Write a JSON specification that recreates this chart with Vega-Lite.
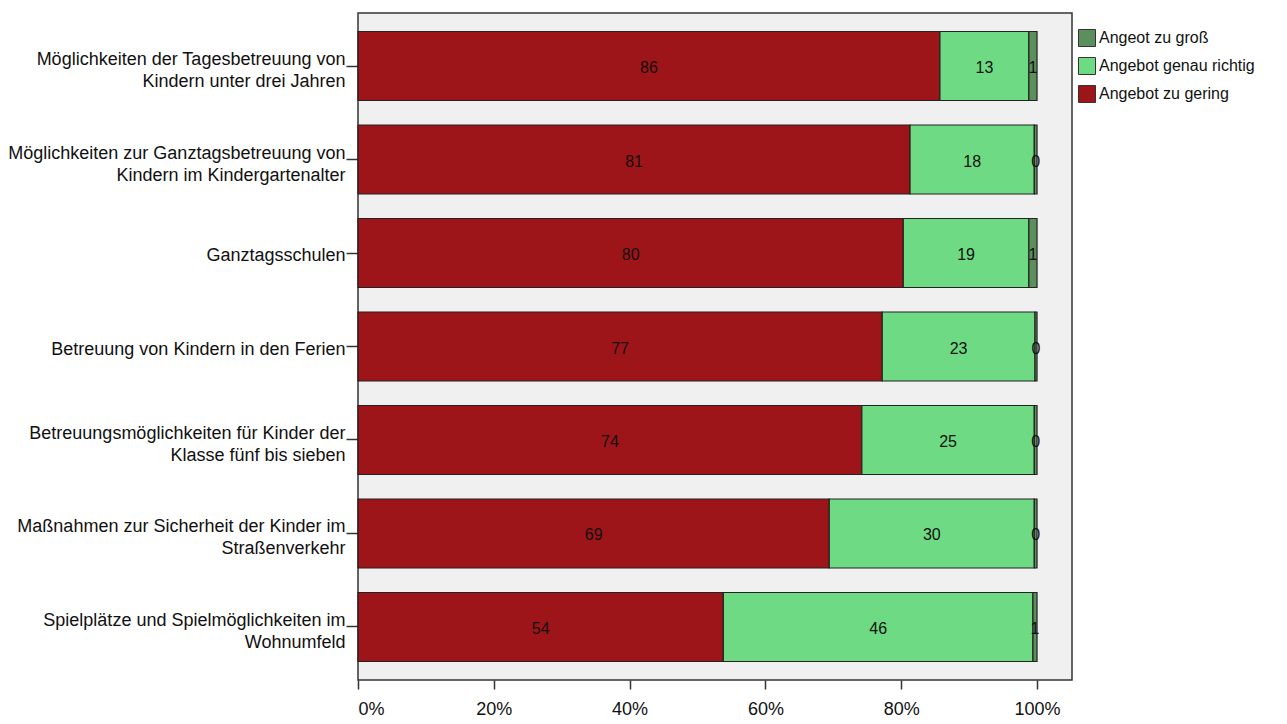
{
  "$schema": "https://vega.github.io/schema/vega-lite/v6.json",
  "autosize": "none",
  "width": 714,
  "height": 667,
  "padding": {"left": 358, "top": 13, "right": 215, "bottom": 44},
  "background": "white",
  "config": {
    "view": {"fill": "#F0F0F0", "stroke": "#333333", "strokeWidth": 1.5},
    "font": "Liberation Sans, Arial"
  },
  "data": {"values": [
    {"item": "Möglichkeiten der Tagesbetreuung von|Kindern unter drei Jahren", "cat": "Angebot zu gering", "ord": 1, "value": 85.7},
    {"item": "Möglichkeiten der Tagesbetreuung von|Kindern unter drei Jahren", "cat": "Angebot genau richtig", "ord": 2, "value": 13.1},
    {"item": "Möglichkeiten der Tagesbetreuung von|Kindern unter drei Jahren", "cat": "Angeot zu groß", "ord": 3, "value": 1.2},
    {"item": "Möglichkeiten zur Ganztagsbetreuung von|Kindern im Kindergartenalter", "cat": "Angebot zu gering", "ord": 1, "value": 81.3},
    {"item": "Möglichkeiten zur Ganztagsbetreuung von|Kindern im Kindergartenalter", "cat": "Angebot genau richtig", "ord": 2, "value": 18.3},
    {"item": "Möglichkeiten zur Ganztagsbetreuung von|Kindern im Kindergartenalter", "cat": "Angeot zu groß", "ord": 3, "value": 0.4},
    {"item": "Ganztagsschulen", "cat": "Angebot zu gering", "ord": 1, "value": 80.3},
    {"item": "Ganztagsschulen", "cat": "Angebot genau richtig", "ord": 2, "value": 18.5},
    {"item": "Ganztagsschulen", "cat": "Angeot zu groß", "ord": 3, "value": 1.2},
    {"item": "Betreuung von Kindern in den Ferien", "cat": "Angebot zu gering", "ord": 1, "value": 77.2},
    {"item": "Betreuung von Kindern in den Ferien", "cat": "Angebot genau richtig", "ord": 2, "value": 22.5},
    {"item": "Betreuung von Kindern in den Ferien", "cat": "Angeot zu groß", "ord": 3, "value": 0.3},
    {"item": "Betreuungsmöglichkeiten für Kinder der|Klasse fünf bis sieben", "cat": "Angebot zu gering", "ord": 1, "value": 74.2},
    {"item": "Betreuungsmöglichkeiten für Kinder der|Klasse fünf bis sieben", "cat": "Angebot genau richtig", "ord": 2, "value": 25.4},
    {"item": "Betreuungsmöglichkeiten für Kinder der|Klasse fünf bis sieben", "cat": "Angeot zu groß", "ord": 3, "value": 0.4},
    {"item": "Maßnahmen zur Sicherheit der Kinder im|Straßenverkehr", "cat": "Angebot zu gering", "ord": 1, "value": 69.4},
    {"item": "Maßnahmen zur Sicherheit der Kinder im|Straßenverkehr", "cat": "Angebot genau richtig", "ord": 2, "value": 30.2},
    {"item": "Maßnahmen zur Sicherheit der Kinder im|Straßenverkehr", "cat": "Angeot zu groß", "ord": 3, "value": 0.4},
    {"item": "Spielplätze und Spielmöglichkeiten im|Wohnumfeld", "cat": "Angebot zu gering", "ord": 1, "value": 53.8},
    {"item": "Spielplätze und Spielmöglichkeiten im|Wohnumfeld", "cat": "Angebot genau richtig", "ord": 2, "value": 45.6},
    {"item": "Spielplätze und Spielmöglichkeiten im|Wohnumfeld", "cat": "Angeot zu groß", "ord": 3, "value": 0.6}
  ]},
  "encoding": {
    "y": {
      "field": "item", "type": "nominal", "sort": null,
      "scale": {"paddingInner": 0.262, "paddingOuter": 0.198},
      "axis": {
        "title": null,
        "labelExpr": "split(datum.value, '|')",
        "labelFontSize": 18,
        "labelLineHeight": 22,
        "labelColor": "#111111",
        "labelPadding": 1,
        "labelOffset": {"expr": "indexof(datum.value, '|') >= 0 ? -6 : 3"},
        "tickSize": 12,
        "tickColor": "#333333",
        "tickWidth": 1.5,
        "domain": false,
        "labelLimit": 400
      }
    },
    "x": {
      "field": "value", "type": "quantitative", "stack": "zero",
      "scale": {"domain": [0, 105.15], "nice": false, "zero": true},
      "axis": {
        "title": null,
        "values": [0, 20, 40, 60, 80, 100],
        "labelExpr": "datum.value + '%'",
        "labelFontSize": 18,
        "labelColor": "#111111",
        "tickSize": 9,
        "tickColor": "#333333",
        "tickWidth": 1.5,
        "domain": false,
        "grid": false,
        "labelPadding": 11
      }
    },
    "order": {"field": "ord", "type": "quantitative"}
  },
  "layer": [
    {
      "mark": {"type": "bar", "stroke": "#222222", "strokeWidth": 1.2},
      "encoding": {
        "color": {
          "field": "cat", "type": "nominal",
          "scale": {
            "domain": ["Angeot zu groß", "Angebot genau richtig", "Angebot zu gering"],
            "range": ["#5B8F5C", "#6EDB84", "#9E1519"]
          },
          "legend": {
            "title": null,
            "orient": "none",
            "legendX": 720,
            "legendY": 16,
            "symbolType": "square",
            "symbolSize": 289,
            "symbolStrokeColor": "#333333",
            "symbolStrokeWidth": 1,
            "labelFontSize": 16,
            "labelColor": "#111111",
            "rowPadding": 6,
            "labelOffset": 3
          }
        }
      }
    },
    {
      "mark": {"type": "text", "fontSize": 16, "color": "#111111", "baseline": "middle", "align": "center", "dy": 2},
      "encoding": {
        "x": {"field": "value", "type": "quantitative", "stack": "zero", "bandPosition": 0.5},
        "text": {"field": "value", "type": "quantitative", "format": ".0f"}
      }
    }
  ]
}
